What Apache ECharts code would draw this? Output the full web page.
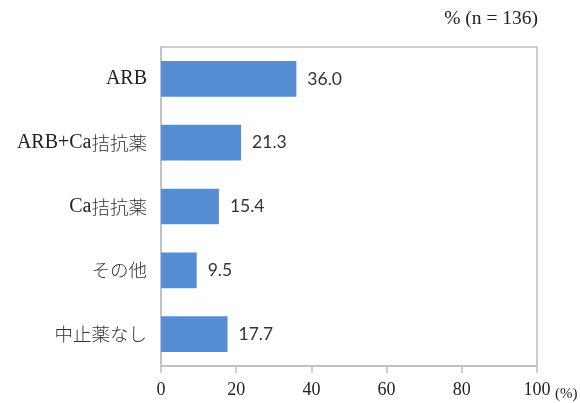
<!DOCTYPE html>
<html>
<head>
<meta charset="utf-8">
<script src="https://cdn.jsdelivr.net/npm/echarts@6/dist/echarts.min.js"></script>
<style>
  html, body { margin: 0; padding: 0; background: #fff; }
  #chart { width: 580px; height: 403px; }
</style>
</head>
<body>
<div id="chart"></div>
<script>
// Categories listed top to bottom
const categories = ['ARB', 'ARB+Ca拮抗薬', 'Ca拮抗薬', 'その他', '中止薬なし'];
// Share of patients (%)
const values = [36.0, 21.3, 15.4, 9.5, 17.7];
const xTicks = [0, 20, 40, 60, 80, 100];

const chart = echarts.init(document.getElementById('chart'));
const serif = '"Liberation Serif", "DejaVu Serif", serif';
const jpFont = '"Noto Sans CJK JP", sans-serif';

// Latin runs in serif, Japanese runs in gothic
function richLabel(s) {
  return s.replace(/([\x00-\x7f]+)|([^\x00-\x7f]+)/g, (m, lat, jp) =>
    lat ? '{l|' + lat + '}' : '{j|' + jp + '}');
}

chart.setOption({
  animation: false,
  grid: { left: 161, right: 43, top: 47, bottom: 37, show: true, borderColor: '#bfbfbf', borderWidth: 1.5 },
  graphic: [
    {
      type: 'text', right: 42, top: 9,
      style: { text: '% (n = 136)', font: '19.5px ' + serif, fill: '#222' }
    },
    {
      type: 'text', left: 555, top: 387,
      style: { text: '(%)', font: '15px ' + serif, fill: '#222' }
    }
  ],
  xAxis: {
    type: 'value', min: xTicks[0], max: xTicks[xTicks.length - 1], interval: 20,
    axisLine: { show: true, lineStyle: { color: '#bfbfbf', width: 1.5 } },
    axisTick: { show: true, length: 7, lineStyle: { color: '#bfbfbf', width: 1.5 } },
    splitLine: { show: false },
    axisLabel: { fontFamily: serif, fontSize: 18, color: '#222', margin: 15 }
  },
  yAxis: {
    type: 'category', data: categories, inverse: true,
    axisLine: { show: true, lineStyle: { color: '#bfbfbf', width: 1.5 } },
    axisTick: { show: false },
    axisLabel: {
      margin: 14, color: '#222',
      formatter: v => richLabel(v),
      rich: {
        l: { fontFamily: serif, fontSize: 20, color: '#222' },
        j: { fontFamily: jpFont, fontSize: 18.5, fontWeight: 300, color: '#333' }
      }
    }
  },
  series: [{
    type: 'bar', data: values, barWidth: '56%',
    itemStyle: { color: '#558ed5' },
    label: {
      show: true, position: 'right', distance: 11,
      formatter: p => p.value.toFixed(1),
      fontFamily: 'Lato, "Open Sans", sans-serif', fontSize: 17.5, color: '#333'
    }
  }]
});
</script>
</body>
</html>
